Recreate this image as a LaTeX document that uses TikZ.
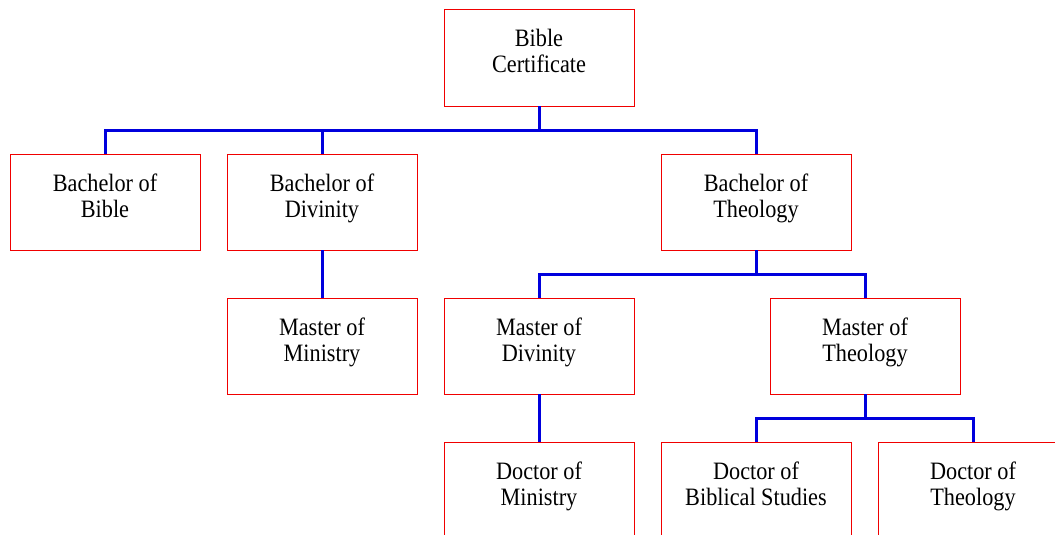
\documentclass[tikz,border=0pt]{standalone}
\usepackage{fontspec}
\setmainfont{Liberation Serif}[FakeStretch=0.89]
\usetikzlibrary{positioning,calc}
\definecolor{boxred}{HTML}{F00000}
\definecolor{linkblue}{HTML}{0000DD}

\tikzset{
  degree/.style={draw=boxred, line width=1pt, fill=white, minimum width=190pt,
    minimum height=96pt, align=center, inner sep=0pt, outer sep=0pt,
    text height=43pt, text depth=13pt,
    font=\fontsize{25}{26}\selectfont},
  link/.style={draw=linkblue, line width=3pt}
}

\begin{document}
\begin{tikzpicture}[x=1pt,y=-1pt]
\clip (0,0) rectangle (1055,535);
\fill[white] (0,0) rectangle (1055,535);
% ROW 1
\node[degree] (cert) at (539,58) {Bible\\Certificate};
% ROW 2: bachelor degrees
\node[degree] (bbib) at (105,202) {Bachelor of\\Bible};
\node[degree] (bdiv) at (322,202) {Bachelor of\\Divinity};
\node[degree] (bthe) at (756,202) {Bachelor of\\Theology};
% ROW 3: master degrees
\node[degree,below=48pt of bdiv] (mmin) {Master of\\Ministry};
\node[degree] (mdiv) at (539,346) {Master of\\Divinity};
\node[degree] (mthe) at (865,346) {Master of\\Theology};
% ROW 4: doctor degrees
\node[degree,below=48pt of mdiv] (dmin) {Doctor of\\Ministry};
\node[degree] (dbib) at (756,490) {Doctor of\\Biblical Studies};
\node[degree] (dthe) at (973,490) {Doctor of\\Theology};
% CONNECTORS
\draw[link] (cert.south) -- ++(0,24.5) coordinate (bus1);
\draw[link] (bus1) -| (bbib.north);
\draw[link] (bus1) -| (bdiv.north);
\draw[link] (bus1) -| (bthe.north);
\draw[link] (bdiv.south) -- (mmin.north);
\draw[link] (bthe.south) -- ++(0,24.5) coordinate (bus2);
\draw[link] (bus2) -| (mdiv.north);
\draw[link] (bus2) -| (mthe.north);
\draw[link] (mdiv.south) -- (dmin.north);
\draw[link] (mthe.south) -- ++(0,24.5) coordinate (bus3);
\draw[link] (bus3) -| (dbib.north);
\draw[link] (bus3) -| (dthe.north);
\end{tikzpicture}
\end{document}
